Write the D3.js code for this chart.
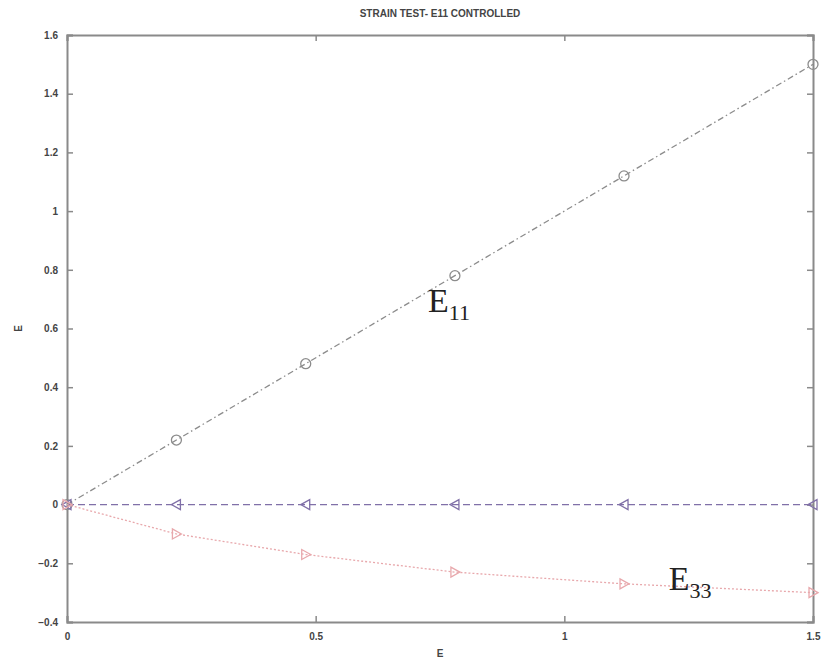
<!DOCTYPE html>
<html>
<head>
<meta charset="utf-8">
<script src="https://cdn.jsdelivr.net/npm/d3@7"></script>
<style>
  body { margin: 0; background: #fff; }
  svg { display: block; }
</style>
</head>
<body>
<script>
// strain values
let strainX = [0, 0.22, 0.48, 0.78, 1.12, 1.5];
let e11 = [0, 0.22, 0.48, 0.78, 1.12, 1.5];
let e22 = [0, 0, 0, 0, 0, 0];
let e33 = [0, -0.1, -0.17, -0.23, -0.27, -0.3];

let xTicks = [0, 0.5, 1, 1.5];
let yTicks = [-0.4, -0.2, 0, 0.2, 0.4, 0.6, 0.8, 1, 1.2, 1.4, 1.6];

let margin = {top: 35, right: 9, bottom: 42, left: 67},
    width = 822 - margin.left - margin.right,
    height = 664 - margin.top - margin.bottom;

let svg = d3.select('body').append('svg')
    .attr('width', 822)
    .attr('height', 664);

let g = svg.append('g')
    .attr('transform', `translate(${margin.left},${margin.top})`);

let x = d3.scaleLinear().domain([0, 1.5]).range([0, width]);
let y = d3.scaleLinear().domain([-0.4, 1.6]).range([height, 0]);

let axisColor = '#8a8a8a';
let tickFont = 'Liberation Sans, Arial, sans-serif';

// axes (ticks pointing inward, like matlab)
let fmt = d => d === 0 ? '0' : d3.format('')(d);

let xAxis = g.append('g')
    .attr('transform', `translate(0,${height})`)
    .call(d3.axisBottom(x).tickValues(xTicks).tickSize(-6).tickPadding(11).tickFormat(fmt));
let xAxisTop = g.append('g')
    .call(d3.axisTop(x).tickValues(xTicks).tickSize(-6).tickFormat(''));
let yAxis = g.append('g')
    .call(d3.axisLeft(y).tickValues(yTicks).tickSize(-6).tickPadding(9).tickFormat(fmt));
let yAxisRight = g.append('g')
    .attr('transform', `translate(${width},0)`)
    .call(d3.axisRight(y).tickValues(yTicks).tickSize(-6).tickFormat(''));

[xAxis, xAxisTop, yAxis, yAxisRight].forEach(a => {
    a.select('.domain').attr('stroke', axisColor).attr('stroke-width', 2);
    a.selectAll('.tick line').attr('stroke', axisColor).attr('stroke-width', 1.5);
    a.selectAll('text')
        .attr('font-family', tickFont)
        .attr('font-weight', 'bold')
        .attr('font-size', '10px')
        .attr('fill', '#444');
});

// series
let series = [
    {name: 'E11', values: e11, color: '#8c8c8c', dash: '6,3,1.5,3', marker: 'circle'},
    {name: 'E22', values: e22, color: '#8070a8', dash: '7,4', marker: 'left'},
    {name: 'E33', values: e33, color: '#e8a8ac', dash: '2,2', marker: 'right'}
];

let line = d3.line()
    .x((d, i) => x(strainX[i]))
    .y(d => y(d));

series.forEach(s => {
    g.append('path')
        .datum(s.values)
        .attr('d', line)
        .attr('fill', 'none')
        .attr('stroke', s.color)
        .attr('stroke-width', 1.3)
        .attr('stroke-dasharray', s.dash);

    let pts = g.selectAll('g.pt-' + s.name)
        .data(s.values)
        .enter().append('g')
        .attr('class', 'pt-' + s.name)
        .attr('transform', (d, i) => `translate(${x(strainX[i])},${y(d)})`);

    if (s.marker === 'circle') {
        pts.append('circle')
            .attr('r', 5)
            .attr('fill', 'none')
            .attr('stroke', s.color)
            .attr('stroke-width', 1.3);
    } else {
        let p = s.marker === 'left' ? 'M-5,0L4,-5L4,5Z' : 'M5,0L-4,-5L-4,5Z';
        pts.append('path')
            .attr('d', p)
            .attr('fill', 'none')
            .attr('stroke', s.color)
            .attr('stroke-width', 1.3);
    }
});

// title and axis labels
svg.append('text')
    .attr('x', margin.left + width / 2)
    .attr('y', 17)
    .attr('text-anchor', 'middle')
    .attr('font-family', tickFont)
    .attr('font-weight', 'bold')
    .attr('font-size', '10px')
    .attr('fill', '#444')
    .text('STRAIN TEST- E11 CONTROLLED');

svg.append('text')
    .attr('x', margin.left + width / 2)
    .attr('y', 657)
    .attr('text-anchor', 'middle')
    .attr('font-family', tickFont)
    .attr('font-weight', 'bold')
    .attr('font-size', '10px')
    .attr('fill', '#444')
    .text('E');

svg.append('text')
    .attr('transform', `translate(22,${margin.top + height / 2}) rotate(-90)`)
    .attr('text-anchor', 'middle')
    .attr('font-family', tickFont)
    .attr('font-weight', 'bold')
    .attr('font-size', '10px')
    .attr('fill', '#444')
    .text('E');

// curve annotations
let notes = [
    {main: 'E', sub: '11', xv: 0.726, yv: 0.655},
    {main: 'E', sub: '33', xv: 1.21, yv: -0.29}
];

notes.forEach(n => {
    let t = g.append('text')
        .attr('x', x(n.xv))
        .attr('y', y(n.yv))
        .attr('font-family', 'Liberation Serif, Times New Roman, serif')
        .attr('font-size', '34px')
        .attr('fill', '#222');
    t.append('tspan').text(n.main);
    t.append('tspan')
        .attr('font-size', '22px')
        .attr('dy', 8)
        .text(n.sub);
});
</script>
</body>
</html>
